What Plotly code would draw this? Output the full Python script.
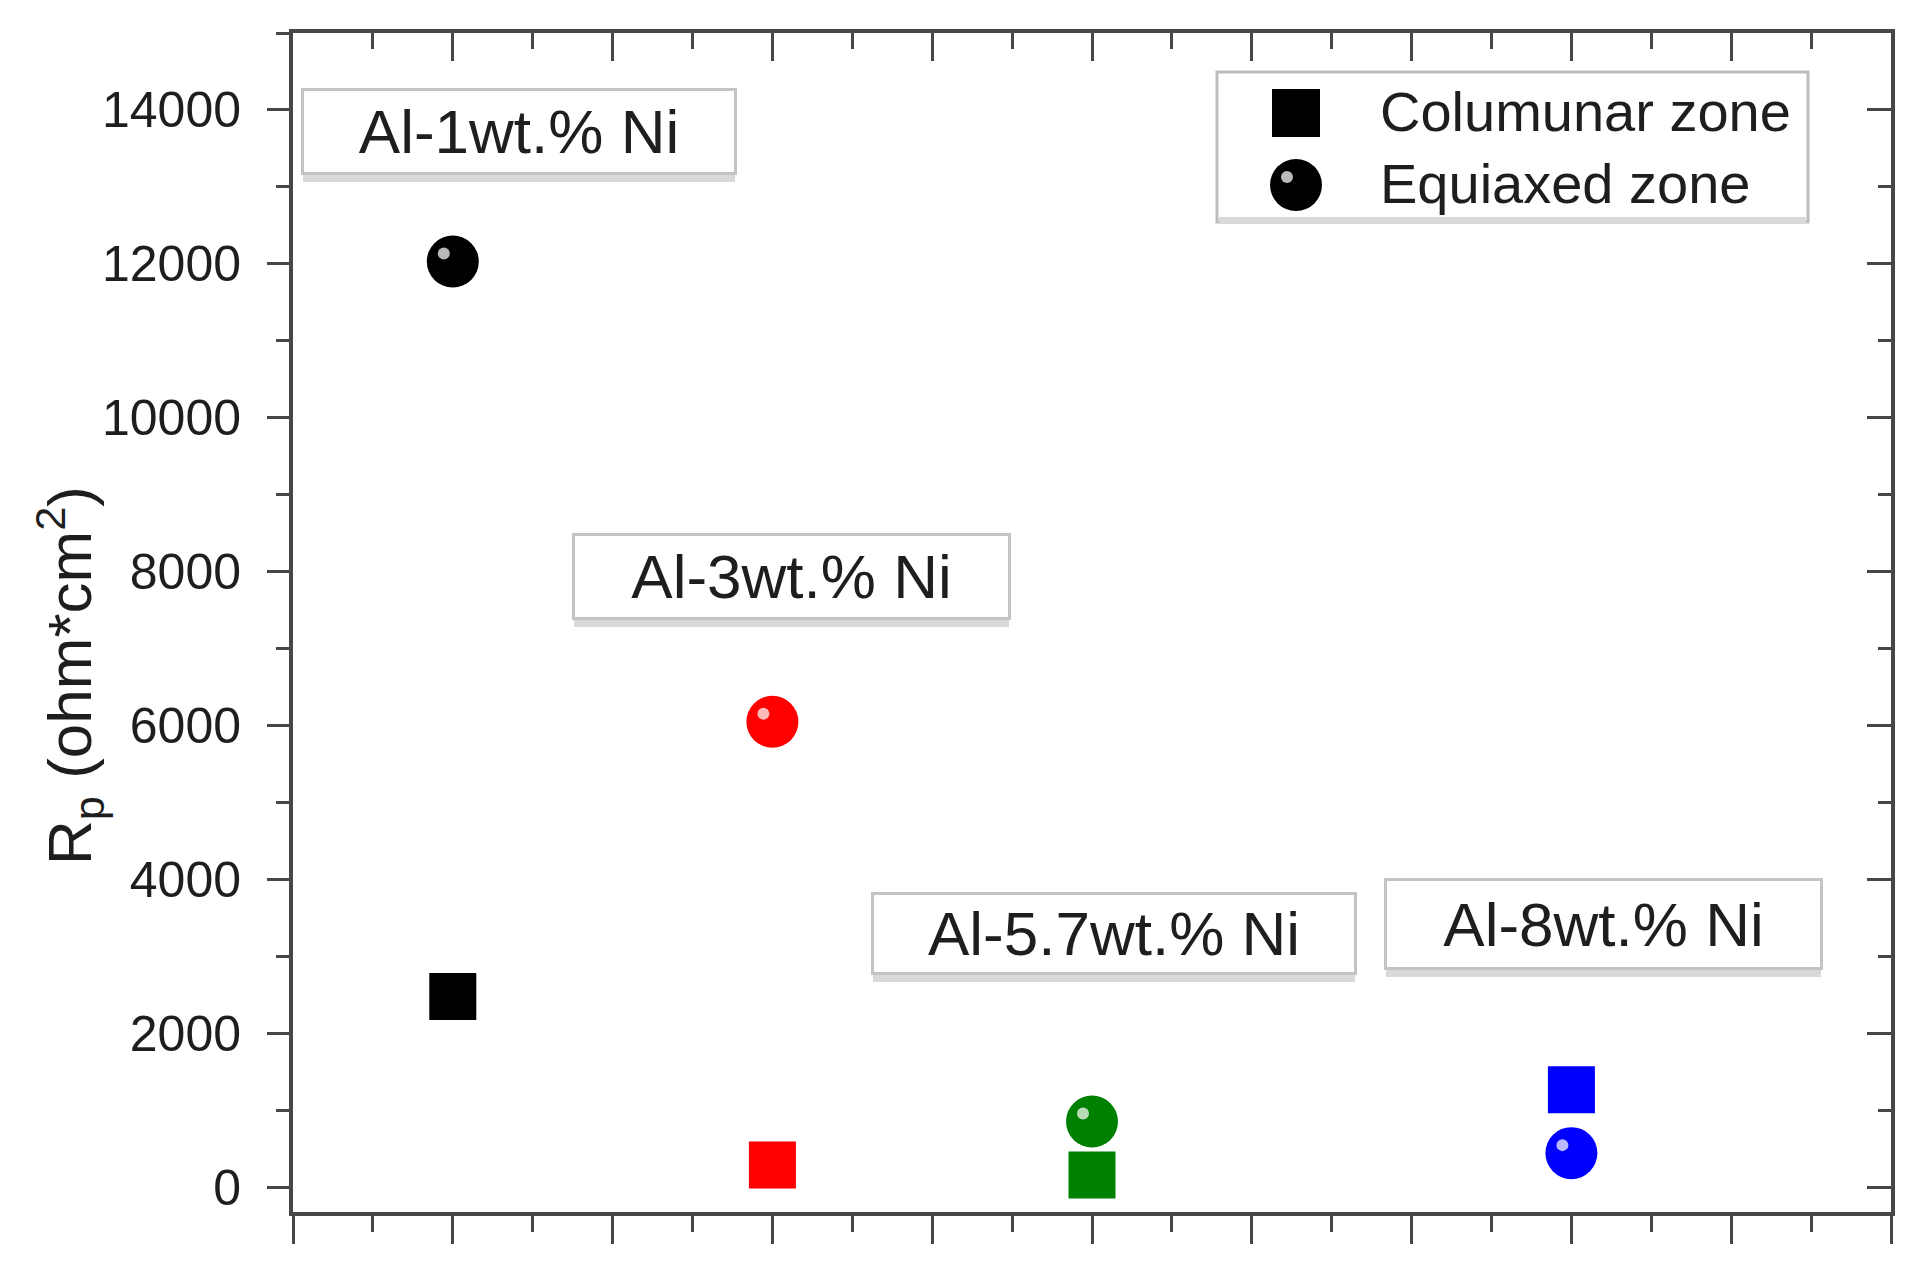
import plotly.graph_objects as go

# ---------------- data ----------------
alloys = ["Al-1wt.% Ni", "Al-3wt.% Ni", "Al-5.7wt.% Ni", "Al-8wt.% Ni"]
x_pos = [1, 3, 5, 8]
columnar = [2480, 290, 160, 1270]
equiaxed = [12030, 6050, 855, 445]
colors = ["#000000", "#ff0000", "#008000", "#0000ff"]
series_names = ["Columunar zone", "Equiaxed zone"]
y_tick_vals = [0, 2000, 4000, 6000, 8000, 10000, 12000, 14000]

# ---------------- geometry (pixels) ----------------
W, H = 1928, 1277
L, R, T, B = 293, 37, 33, 65
PW, PH = W - L - R, H - T - B


def px(xp):
    return (xp - L) / PW


def py(yp):
    return (H - B - yp) / PH


FONT = "Liberation Sans, Arial, Helvetica, sans-serif"
AXC = "#474747"
TXT = "#1e1e1e"

fig = go.Figure()

fig.add_trace(go.Scatter(
    x=x_pos, y=columnar, mode="markers", name=series_names[0],
    marker=dict(symbol="square", size=47, color=colors, line=dict(width=0)),
    showlegend=False, cliponaxis=False))
fig.add_trace(go.Scatter(
    x=x_pos, y=equiaxed, mode="markers", name=series_names[1],
    marker=dict(symbol="circle", size=52, color=colors, line=dict(width=0)),
    showlegend=False, cliponaxis=False))
# invisible trace for mirrored (inside-tick) top/right axes
fig.add_trace(go.Scatter(x=[None], y=[None], xaxis="x2", yaxis="y2",
                         showlegend=False, hoverinfo="skip"))

shapes = []
# sphere highlights on the equiaxed markers
for xv, yv in zip(x_pos, equiaxed):
    shapes.append(dict(type="circle", xref="x", yref="y",
                       xsizemode="pixel", ysizemode="pixel",
                       xanchor=xv, yanchor=yv, x0=-15, x1=-3, y0=2, y1=14,
                       fillcolor="rgba(255,255,255,0.72)", line=dict(width=0), layer="above"))

# ---- manual legend (big symbols) ----
shapes.append(dict(type="rect", xref="paper", yref="paper",
                   x0=px(1217), x1=px(1808), y0=py(222), y1=py(72),
                   line=dict(color="#bdbdbd", width=3), fillcolor="white", layer="above"))
shapes.append(dict(type="rect", xref="paper", yref="paper",
                   x0=px(1219), x1=px(1806), y0=py(224), y1=py(217),
                   line=dict(width=0), fillcolor="#d9d9d9", layer="above"))
lx = px(1296)
shapes.append(dict(type="rect", xref="paper", yref="paper", xsizemode="pixel", ysizemode="pixel",
                   xanchor=lx, yanchor=py(113), x0=-24, x1=24, y0=-24, y1=24,
                   fillcolor="#000000", line=dict(width=0), layer="above"))
shapes.append(dict(type="circle", xref="paper", yref="paper", xsizemode="pixel", ysizemode="pixel",
                   xanchor=lx, yanchor=py(185), x0=-26, x1=26, y0=-26, y1=26,
                   fillcolor="#000000", line=dict(width=0), layer="above"))
shapes.append(dict(type="circle", xref="paper", yref="paper", xsizemode="pixel", ysizemode="pixel",
                   xanchor=lx, yanchor=py(185), x0=-15, x1=-3, y0=2, y1=14,
                   fillcolor="rgba(255,255,255,0.72)", line=dict(width=0), layer="above"))

annotations = [
    dict(text=series_names[0], xref="paper", yref="paper", x=px(1378), y=py(112),
         xanchor="left", yanchor="middle", showarrow=False, font=dict(size=56, color=TXT, family=FONT)),
    dict(text=series_names[1], xref="paper", yref="paper", x=px(1378), y=py(184),
         xanchor="left", yanchor="middle", showarrow=False, font=dict(size=56, color=TXT, family=FONT)),
    # y-axis title
    dict(text="R<sub>p</sub> (ohm*cm<sup>2</sup>)", xref="paper", yref="paper",
         x=px(70), y=py(676), xanchor="center", yanchor="middle", textangle=-90,
         showarrow=False, font=dict(size=62, color=TXT, family=FONT)),
]

# alloy label boxes: (left, top, right, bottom) in px
boxes = [(301, 88, 737, 175), (572, 533, 1011, 620), (871, 892, 1357, 975), (1384, 878, 1823, 970)]
for label, (x0, y0, x1, y1) in zip(alloys, boxes):
    # light shadow band along the bottom edge
    shapes.append(dict(type="rect", xref="paper", yref="paper",
                       x0=px(x0 + 2), x1=px(x1 - 2), y0=py(y1 + 7), y1=py(y1 - 1),
                       line=dict(width=0), fillcolor="#d9d9d9", layer="above"))
    annotations.append(dict(
        text=label, xref="paper", yref="paper", x=px((x0 + x1) / 2), y=py((y0 + y1) / 2),
        xanchor="center", yanchor="middle", showarrow=False,
        width=x1 - x0 - 6, height=y1 - y0 - 6, borderpad=0,
        bordercolor="#c4c4c4", borderwidth=3, bgcolor="white",
        font=dict(size=62, color=TXT, family=FONT)))

axis_common = dict(showline=True, linecolor=AXC, linewidth=4, showgrid=False, zeroline=False,
                   tickcolor=AXC, tickwidth=3)

fig.update_layout(
    width=W, height=H,
    margin=dict(l=L, r=R, t=T, b=B, pad=0),
    paper_bgcolor="white", plot_bgcolor="white",
    font=dict(family=FONT, color=TXT),
    xaxis=dict(range=[0, 10], tickmode="linear", tick0=0, dtick=1, ticks="outside", ticklen=28,
               showticklabels=False, minor=dict(tickmode="linear", tick0=0, dtick=0.5, ticks="outside",
                                                ticklen=16, tickcolor=AXC, tickwidth=3),
               **axis_common),
    yaxis=dict(range=[-320, 15000], tickmode="array", tickvals=y_tick_vals,
               ticktext=[str(v) for v in y_tick_vals], ticks="outside", ticklen=22,
               tickfont=dict(size=50, color=TXT, family=FONT), ticklabelstandoff=16,
               minor=dict(tickmode="linear", tick0=0, dtick=1000, ticks="outside", ticklen=13,
                          tickcolor=AXC, tickwidth=3),
               **axis_common),
    xaxis2=dict(range=[0, 10], overlaying="x", side="top", tickmode="linear", tick0=0, dtick=1,
                ticks="inside", ticklen=28, showticklabels=False,
                minor=dict(tickmode="linear", tick0=0, dtick=0.5, ticks="inside", ticklen=16,
                           tickcolor=AXC, tickwidth=3),
                **axis_common),
    yaxis2=dict(range=[-320, 15000], overlaying="y", side="right", tickmode="linear", tick0=0, dtick=2000,
                ticks="inside", ticklen=24, showticklabels=False,
                minor=dict(tickmode="linear", tick0=0, dtick=1000, ticks="inside", ticklen=13,
                           tickcolor=AXC, tickwidth=3),
                **axis_common),
    shapes=shapes, annotations=annotations, showlegend=False,
)

fig.write_html("out.html", config={"displayModeBar": False},
               post_script="document.body.style.margin='0';document.body.style.overflow='hidden';")
